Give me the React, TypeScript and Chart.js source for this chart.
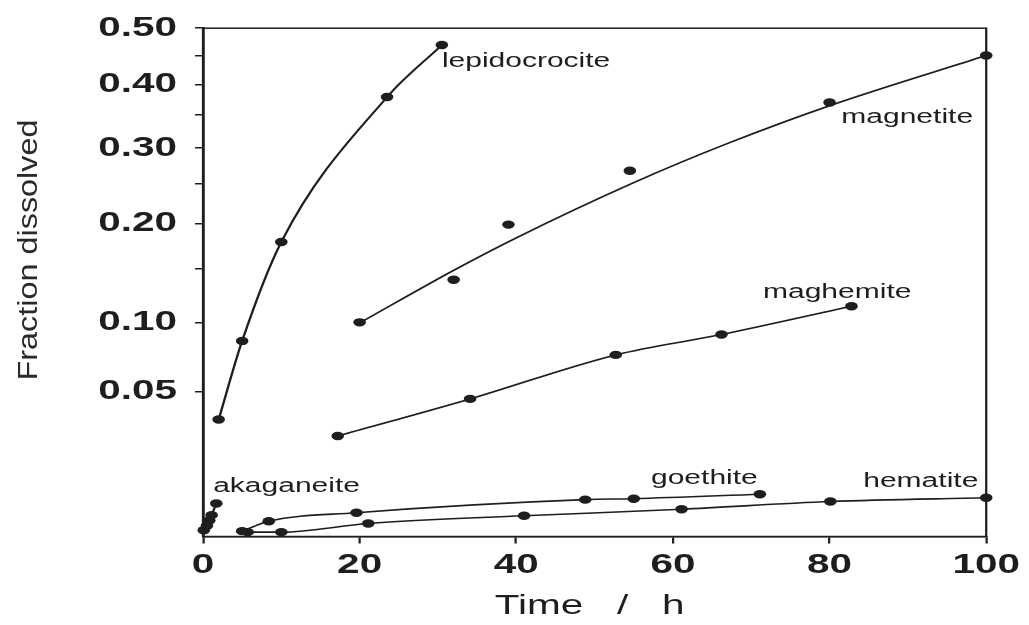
import React, { useEffect, useRef } from 'react';
import { Chart, LinearScale, registerables } from 'chart.js';

// Dissolution of iron oxides: time (h) against fraction dissolved
const lepidocrociteTime = [2, 5, 10, 23.5, 30.5];
const lepidocrociteFrac = [0.035, 0.085, 0.179, 0.379, 0.469];

const magnetiteTime = [20, 32, 39, 54.5, 80, 100];
const magnetiteFrac = [0.1, 0.139, 0.199, 0.268, 0.37, 0.45];
// smooth fitted curve drawn through the magnetite measurements
const magnetiteFitTime = [20, 32, 40, 55, 67, 80, 100];
const magnetiteFitFrac = [0.0995, 0.1485, 0.1837, 0.252, 0.307, 0.365, 0.45];

const maghemiteTime = [17.2, 34.1, 52.7, 66.2, 82.8];
const maghemiteFrac = [0.0273, 0.046, 0.0745, 0.09, 0.114];

const akaganeiteTime = [0.1, 0.5, 0.8, 1.1, 1.7];
const akaganeiteFrac = [0.0016, 0.0021, 0.0028, 0.0036, 0.0057];

const goethiteTime = [5.0, 8.4, 19.6, 48.8, 55.0, 71.1];
const goethiteFrac = [0.0015, 0.0027, 0.004, 0.0065, 0.0067, 0.0077];

const hematiteTime = [5.7, 10.0, 21.1, 41.0, 61.1, 80.1, 100];
const hematiteFrac = [0.0014, 0.0014, 0.0024, 0.0035, 0.0046, 0.0061, 0.0069];

// y axis (square-root scale) ticks
const yMajorTicks = [0.05, 0.1, 0.2, 0.3, 0.4, 0.5];
const yTickLabels = ['0.05', '0.10', '0.20', '0.30', '0.40', '0.50'];
const yMinorTicks = [0.15, 0.25, 0.35, 0.45];
const xTickStep = 20;

// curve names and where they sit, in data units
const curveLabels = ['lepidocrocite', 'magnetite', 'maghemite', 'akaganeite', 'goethite', 'hematite'];
const curveLabelTime = [30.5, 81.5, 71.5, 1.3, 57.2, 84.3];
const curveLabelFrac = [0.4386, 0.346, 0.127, 0.0096, 0.0118, 0.0109];

const W = 1029;
const H = 625;
const SX = 1.5; // the figure is drawn horizontally widened
const LW = W / SX;
const FONT = '"Liberation Sans", Arial, Helvetica, sans-serif';
const INK = '#1e1e1e';

// Linear scale in sqrt(value)
class SqrtScale extends LinearScale {
  static id = 'sqrt';
  static defaults = LinearScale.defaults;
  _sMin = 0;
  _sMax = 1;
  configure() {
    super.configure();
    this._sMin = Math.sqrt(Math.max(this.min, 0));
    this._sMax = Math.sqrt(Math.max(this.max, 0));
  }
  getPixelForValue(value: number) {
    const s = Math.sqrt(Math.max(value, 0));
    return this.getPixelForDecimal((s - this._sMin) / (this._sMax - this._sMin));
  }
  getValueForPixel(pixel: number) {
    const d = this.getDecimalForPixel(pixel);
    const s = this._sMin + d * (this._sMax - this._sMin);
    return s * s;
  }
}

Chart.register(...registerables, SqrtScale);

const pts = (xs: number[], ys: number[]) => xs.map((x, i) => ({ x, y: ys[i] }));

const figurePlugin = {
  id: 'figure',
  beforeDraw(chart: any) {
    const ctx = chart.ctx as CanvasRenderingContext2D;
    ctx.setTransform(1, 0, 0, 1, 0, 0);
    ctx.fillStyle = '#ffffff';
    ctx.fillRect(0, 0, chart.canvas.width, chart.canvas.height);
    ctx.setTransform(SX, 0, 0, 1, 0, 0);
  },
  afterDraw(chart: any) {
    const ctx = chart.ctx as CanvasRenderingContext2D;
    const { chartArea, scales } = chart;
    ctx.save();
    ctx.strokeStyle = INK;
    ctx.lineWidth = 1.5;
    ctx.strokeRect(chartArea.left, chartArea.top, chartArea.right - chartArea.left, chartArea.bottom - chartArea.top);

    ctx.fillStyle = INK;
    ctx.font = `20px ${FONT}`;
    ctx.textAlign = 'left';
    ctx.textBaseline = 'middle';
    curveLabels.forEach((t, i) => {
      ctx.fillText(t, scales.x.getPixelForValue(curveLabelTime[i]), scales.y.getPixelForValue(curveLabelFrac[i]));
    });

    ctx.font = `27px ${FONT}`;
    ctx.textAlign = 'center';
    ctx.fillText('Time   /   h', (chartArea.left + chartArea.right) / 2 - 3.3, 607);
    ctx.restore();

    ctx.save();
    ctx.setTransform(1, 0, 0, 1, 0, 0);
    ctx.translate(30, 250);
    ctx.rotate(-Math.PI / 2);
    ctx.scale(1.2, 1);
    ctx.font = `27px ${FONT}`;
    ctx.fillStyle = '#2a2a2a';
    ctx.textAlign = 'center';
    ctx.textBaseline = 'middle';
    ctx.fillText('Fraction dissolved', 0, 0);
    ctx.restore();
    ctx.setTransform(SX, 0, 0, 1, 0, 0);
  },
};

export default function App() {
  const ref = useRef<HTMLCanvasElement>(null);

  useEffect(() => {
    const canvas = ref.current!;
    canvas.width = LW;
    canvas.height = H;

    const base = {
      borderColor: INK,
      backgroundColor: INK,
      borderWidth: 1.6,
      pointRadius: 4.2,
      pointHoverRadius: 4.2,
      pointBorderWidth: 0,
      showLine: true,
      clip: false as const,
      tension: 0,
    };

    const chart = new Chart(canvas, {
      type: 'scatter',
      data: {
        datasets: [
          { ...base, label: 'lepidocrocite', data: pts(lepidocrociteTime, lepidocrociteFrac), cubicInterpolationMode: 'monotone' },
          { ...base, label: 'magnetite fit', data: pts(magnetiteFitTime, magnetiteFitFrac), pointRadius: 0, cubicInterpolationMode: 'monotone' },
          { ...base, label: 'magnetite', data: pts(magnetiteTime, magnetiteFrac), showLine: false },
          { ...base, label: 'maghemite', data: pts(maghemiteTime, maghemiteFrac), cubicInterpolationMode: 'monotone' },
          { ...base, label: 'akaganeite', data: pts(akaganeiteTime, akaganeiteFrac) },
          { ...base, label: 'goethite', data: pts(goethiteTime, goethiteFrac), cubicInterpolationMode: 'monotone' },
          { ...base, label: 'hematite', data: pts(hematiteTime, hematiteFrac), cubicInterpolationMode: 'monotone' },
        ],
      } as any,
      options: {
        animation: false,
        responsive: false,
        devicePixelRatio: 1,
        events: [],
        layout: { padding: { top: 25, right: LW - 660.7, left: 0, bottom: 0 } },
        plugins: { legend: { display: false }, tooltip: { enabled: false } },
        scales: {
          x: {
            type: 'linear',
            min: 0,
            max: 100,
            ticks: {
              stepSize: xTickStep,
              font: { family: FONT, size: 27, weight: 'bold' },
              color: INK,
              padding: 6,
              maxRotation: 0,
            },
            grid: { display: true, drawOnChartArea: false, drawTicks: true, tickLength: 7, color: INK, lineWidth: 1.5 },
            border: { display: true, color: INK, width: 1.5 },
            afterFit: (s: any) => {
              s.height = H - 536.5;
            },
          },
          y: {
            type: 'sqrt' as any,
            min: 0.001,
            max: 0.5,
            bounds: 'data',
            afterBuildTicks: (s: any) => {
              s.ticks = [...yMajorTicks, ...yMinorTicks].sort((a, b) => a - b).map((v) => ({ value: v }));
            },
            ticks: {
              autoSkip: false,
              callback: (v: any) => {
                const i = yMajorTicks.indexOf(v);
                return i >= 0 ? yTickLabels[i] : '';
              },
              font: { family: FONT, size: 27, weight: 'bold' },
              color: INK,
              padding: 12,
            },
            grid: { display: true, drawOnChartArea: false, drawTicks: true, tickLength: 5.3, color: INK, lineWidth: 1.5 },
            border: { display: true, color: INK, width: 1.5 },
            afterFit: (s: any) => {
              s.width = 203 / SX;
            },
          } as any,
        },
      },
      plugins: [figurePlugin],
    });

    // widen the bitmap to the full page width and redraw with the horizontal stretch
    canvas.width = W;
    canvas.height = H;
    chart.draw();

    return () => chart.destroy();
  }, []);

  return (
    <div style={{ position: 'fixed', left: 0, top: 0, width: W, height: H, background: '#fff' }}>
      <canvas ref={ref} style={{ width: `${W}px`, height: `${H}px`, display: 'block' }} />
    </div>
  );
}
